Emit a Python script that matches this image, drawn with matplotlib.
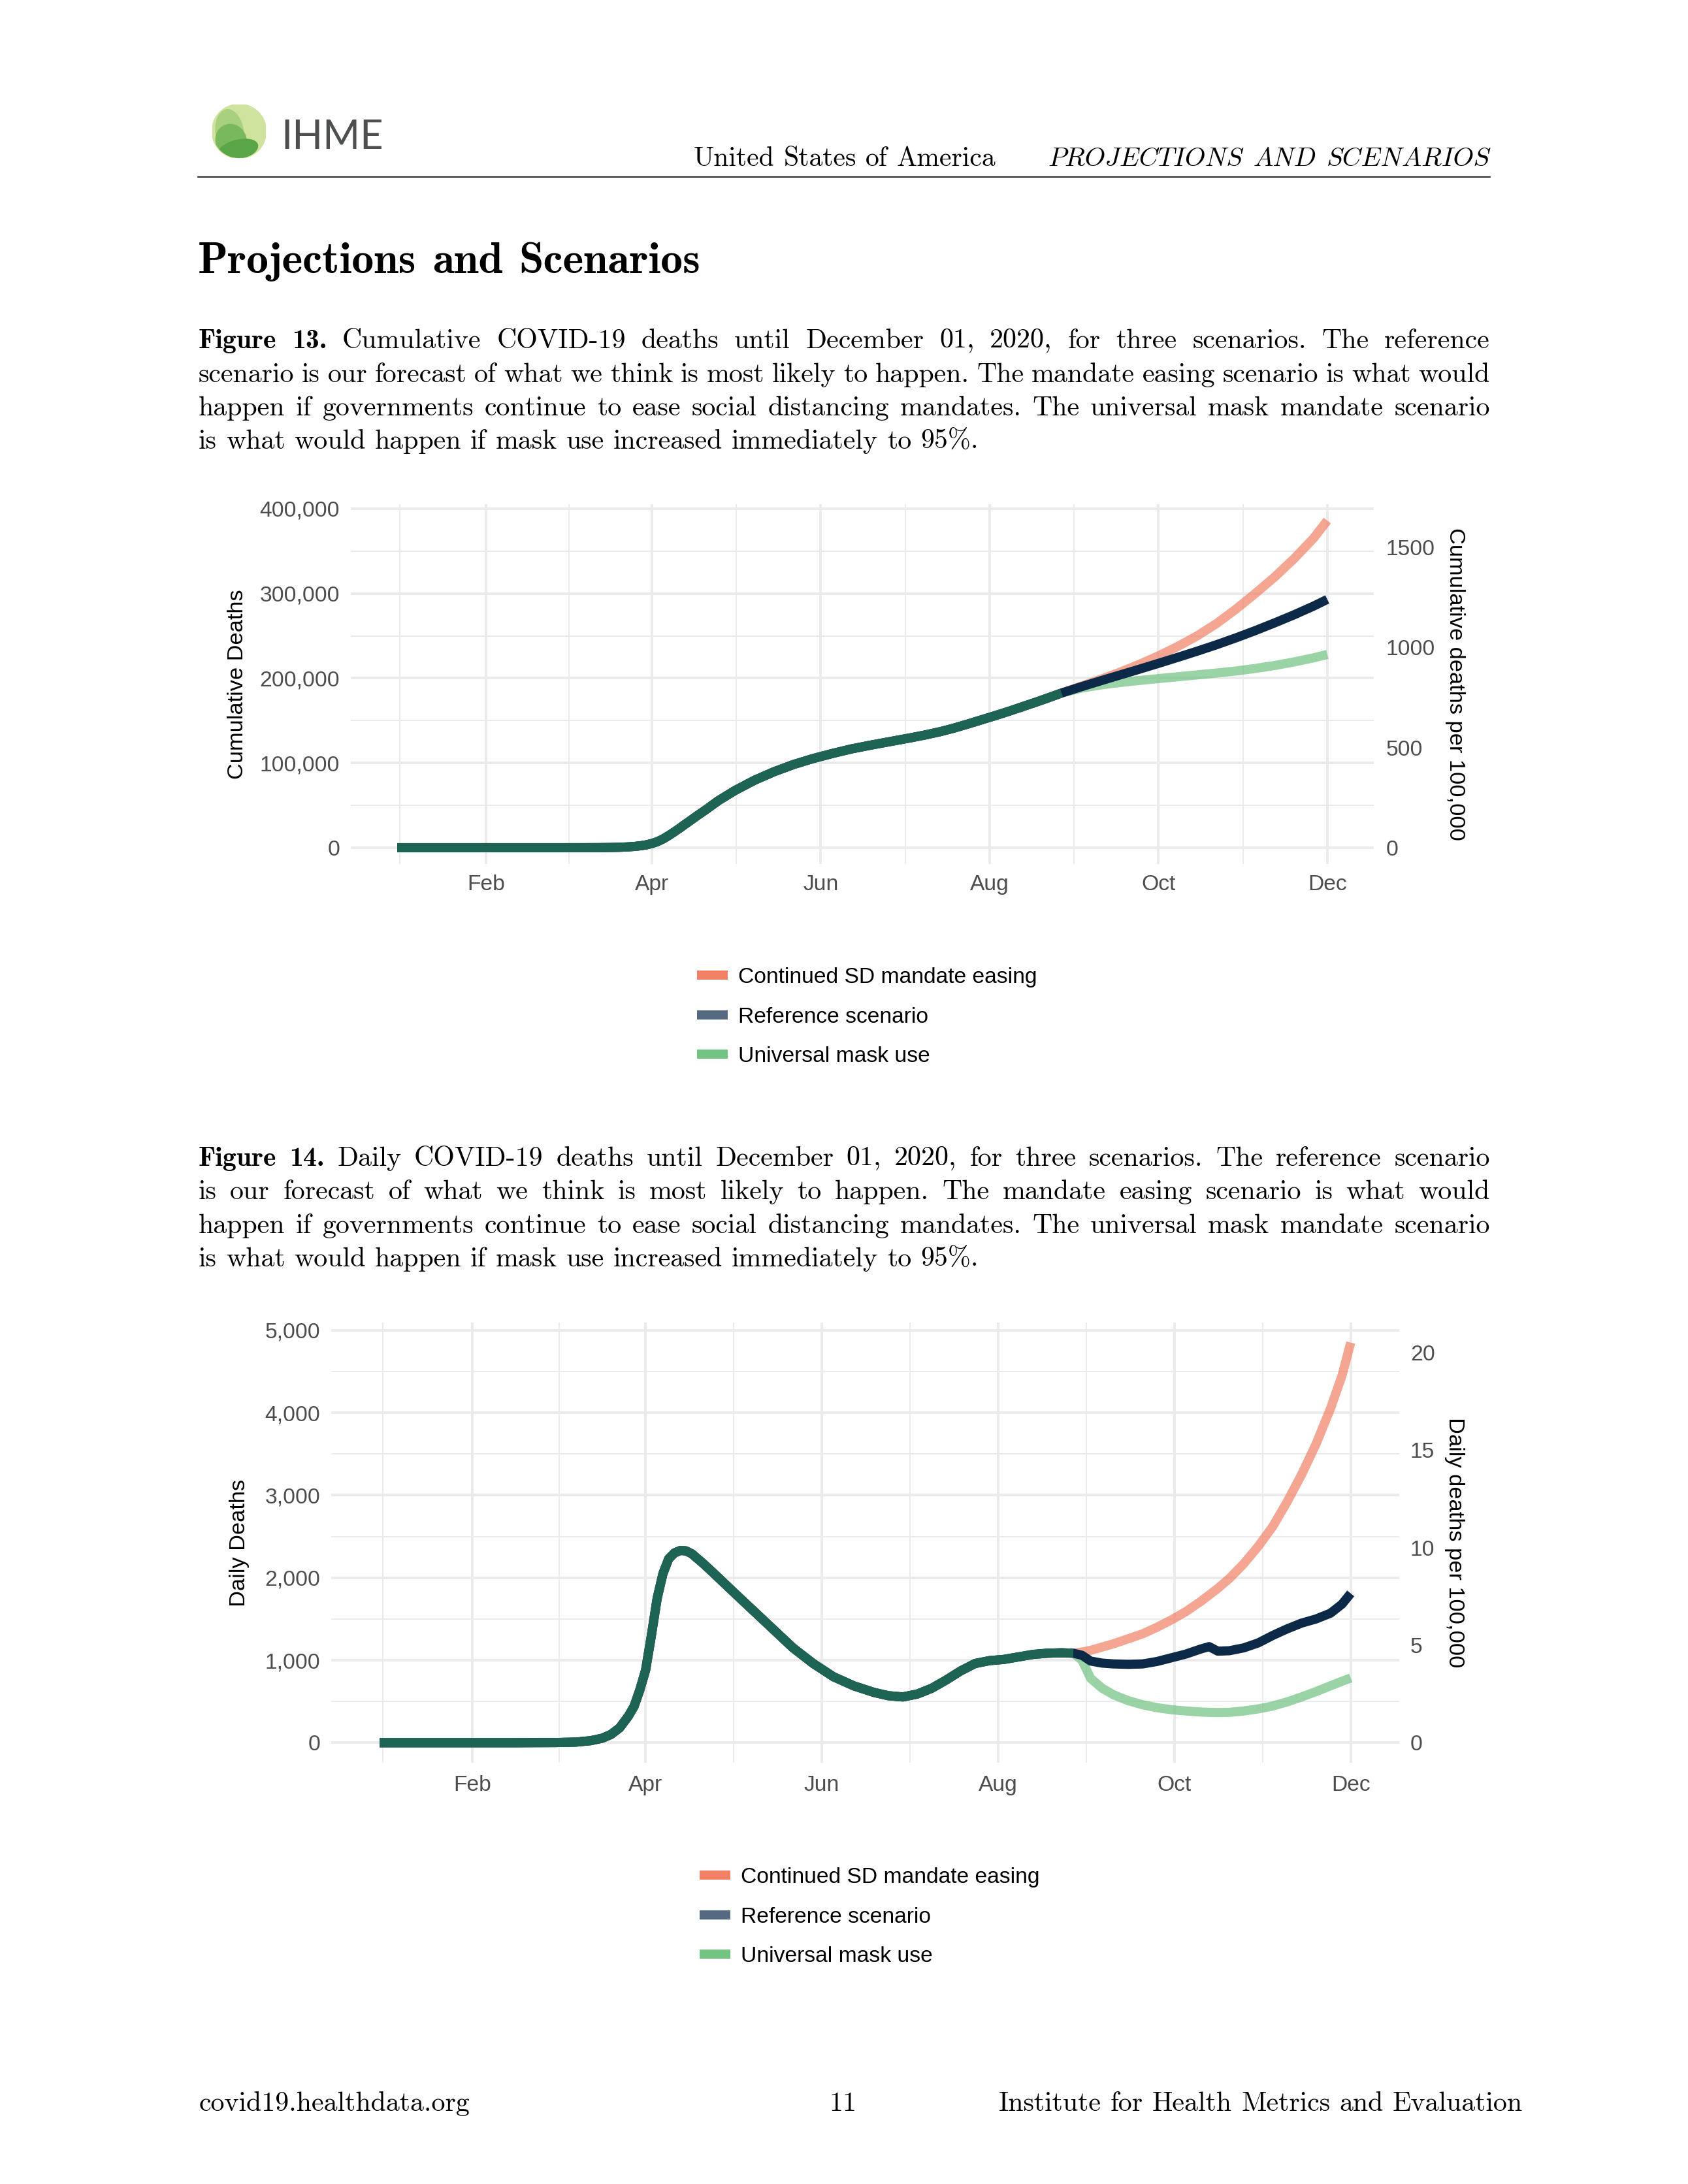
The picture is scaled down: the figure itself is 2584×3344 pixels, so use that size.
import numpy as np
import pandas as pd
import matplotlib
matplotlib.use("Agg")
import matplotlib.pyplot as plt
import matplotlib.dates as mdates
from matplotlib.font_manager import FontProperties
from matplotlib.lines import Line2D
from matplotlib.patches import Circle, Ellipse

# ---------------------------------------------------------------- data
hist_dates = ["2019-12-31", "2020-01-15", "2020-02-01", "2020-02-15", "2020-03-01",
              "2020-03-08", "2020-03-13", "2020-03-17", "2020-03-20", "2020-03-23",
              "2020-03-26", "2020-03-28", "2020-03-30", "2020-04-01", "2020-04-03",
              "2020-04-05", "2020-04-07", "2020-04-09", "2020-04-11", "2020-04-13",
              "2020-04-15", "2020-04-17", "2020-04-21", "2020-04-25", "2020-05-01",
              "2020-05-08", "2020-05-15", "2020-05-22", "2020-05-29", "2020-06-05",
              "2020-06-12", "2020-06-19", "2020-06-24", "2020-06-29", "2020-07-04",
              "2020-07-09", "2020-07-14", "2020-07-19", "2020-07-24", "2020-07-29",
              "2020-08-03", "2020-08-08", "2020-08-13", "2020-08-18", "2020-08-23",
              "2020-08-27"]
hist_daily = [0, 0, 0, 0, 2, 8, 25, 55, 100, 180, 320, 440, 640, 880, 1300, 1750, 2050,
              2230, 2300, 2330, 2325, 2290, 2170, 2040, 1840, 1610, 1380, 1150, 960, 800,
              690, 610, 570, 555, 590, 660, 760, 870, 960, 995, 1010, 1040, 1070, 1085,
              1090, 1085]
hist_cum = [0, 0, 0, 0, 0, 30, 90, 250, 480, 900, 1600, 2350, 3400, 5000, 7200, 10300,
            14200, 18500, 23000, 27700, 32300, 37000, 46000, 55500, 67500, 79500, 89500,
            98000, 105000, 111000, 116500, 121000, 124000, 127000, 130000, 133200, 136800,
            141000, 145800, 150800, 155800, 161000, 166500, 172000, 177800, 182500]

cum_proj_dates = ["2020-09-03", "2020-09-10", "2020-09-17", "2020-09-24", "2020-10-01",
                  "2020-10-08", "2020-10-15", "2020-10-22", "2020-10-29", "2020-11-05",
                  "2020-11-12", "2020-11-19", "2020-11-26", "2020-12-01"]
ease_cum = [190500, 198500, 207000, 216200, 226300, 237500, 250000, 264500, 281500,
            300000, 319500, 341000, 365000, 386000]
ref_cum = [189800, 196800, 203700, 210500, 217500, 224600, 231900, 239500, 247600,
           256200, 265300, 274800, 285000, 293000]
mask_cum = [188200, 192000, 194900, 197300, 199500, 201700, 203900, 206100, 208500,
            211500, 215000, 219200, 224000, 228000]

daily_proj_dates = ["2020-08-30", "2020-09-02", "2020-09-06", "2020-09-10", "2020-09-15",
                    "2020-09-20", "2020-09-25", "2020-09-30", "2020-10-05", "2020-10-10",
                    "2020-10-13", "2020-10-16", "2020-10-20", "2020-10-25", "2020-10-30",
                    "2020-11-04", "2020-11-09", "2020-11-14", "2020-11-19", "2020-11-24",
                    "2020-11-28", "2020-12-01"]
ease_daily = [1100, 1120, 1160, 1200, 1260, 1320, 1400, 1490, 1590, 1710, 1790, 1870, 1990,
              2170, 2380, 2620, 2920, 3250, 3620, 4050, 4450, 4850]
ref_daily = [1060, 990, 965, 955, 950, 955, 985, 1030, 1075, 1135, 1165, 1110, 1115, 1150,
             1210, 1300, 1380, 1450, 1500, 1570, 1680, 1810]
mask_daily = [1000, 780, 660, 580, 510, 460, 425, 400, 385, 372, 368, 366, 368, 385, 410,
              445, 495, 555, 620, 690, 745, 785]

scenario_labels = ["Continued SD mandate easing", "Reference scenario", "Universal mask use"]
legend_colors = ["#F18165", "#556A80", "#73C383"]
line_colors = ["#F08064", "#0C2A48", "#70C17F"]
line_alphas = [0.7, 1.0, 0.7]
history_color = "#1E6454"

month_ticks = ["2019-12-01", "2020-02-01", "2020-04-01", "2020-06-01", "2020-08-01",
               "2020-10-01", "2020-12-01"]
month_labels = ["", "Feb", "Apr", "Jun", "Aug", "Oct", "Dec"]
cum_ticks = [0, 100000, 200000, 300000, 400000]
cum_rate_ticks = [0, 500, 1000, 1500]
daily_ticks = [0, 1000, 2000, 3000, 4000, 5000]
daily_rate_ticks = [0, 5, 10, 15, 20]
rate_divisor = 236.4

caption13 = ["Figure 13. Cumulative COVID-19 deaths until December 01, 2020, for three scenarios. The reference",
             "scenario is our forecast of what we think is most likely to happen. The mandate easing scenario is what would",
             "happen if governments continue to ease social distancing mandates. The universal mask mandate scenario",
             "is what would happen if mask use increased immediately to 95%."]
caption14 = ["Figure 14. Daily COVID-19 deaths until December 01, 2020, for three scenarios. The reference scenario",
             "is our forecast of what we think is most likely to happen. The mandate easing scenario is what would",
             "happen if governments continue to ease social distancing mandates. The universal mask mandate scenario",
             "is what would happen if mask use increased immediately to 95%."]

# ---------------------------------------------------------------- figure
W, H = 2584, 3344
DPI = 200
SANS = ["Liberation Sans", "DejaVu Sans"]
SERIF = ["cmr10", "DejaVu Serif"]
SERIF_B = ["cmb10", "DejaVu Serif"]
SERIF_I = ["cmmi10", "DejaVu Serif"]
plt.rcParams["font.family"] = SANS
plt.rcParams["axes.unicode_minus"] = False

fig = plt.figure(figsize=(W / DPI, H / DPI), dpi=DPI)
fig.patch.set_facecolor("white")
renderer = fig.canvas.get_renderer()

LW = 14 * 72 / DPI
GRID = "#EBEBEB"
TICK_COLOR = "#4D4D4D"
TICK_SIZE = 12.1


def fp(fam, size, weight="normal"):
    return FontProperties(family=fam, size=size, weight=weight)


def widths(items, size):
    return [renderer.get_text_width_height_descent(w, fp(f, size), ismath=False)[0]
            for w, f in items]


def natural(items, size, sp):
    return sum(widths(items, size)) + sp * size * DPI / 72 * (len(items) - 1)


def fit(items, target, sp=0.333):
    return 10 * target / natural(items, 10, sp)


def place(items, x0, base, size, x1=None, sp=0.333, color="black"):
    ws = widths(items, size)
    if x1 is None or len(items) < 2:
        gap = sp * size * DPI / 72
    else:
        gap = (x1 - x0 - sum(ws)) / (len(items) - 1)
    x = x0
    for (w, f), wd in zip(items, ws):
        fig.text(x / W, 1 - base / H, w, fontproperties=fp(f, size), color=color,
                 ha="left", va="baseline")
        x += wd + gap


def items_of(line, bold_n=0, fam=SERIF):
    ws = line.split(" ")
    return [(w, SERIF_B if i < bold_n else fam) for i, w in enumerate(ws)]


# ---------------- header
logo = fig.add_axes([(366 - 41) / W, 1 - (201 + 41) / H, 82 / W, 82 / H])
logo.set_xlim(-1, 1)
logo.set_ylim(-1, 1)
logo.axis("off")
base_c = Circle((0, 0), 1, color="#CFE39E")
logo.add_patch(base_c)
for (cx, cy, ew, eh, ang, col) in [(-0.35, -0.05, 1.0, 1.7, 8, "#A9D07F"),
                                   (-0.3, -0.35, 1.1, 1.2, 20, "#79B85C"),
                                   (-0.05, -0.7, 1.5, 0.7, 15, "#5AA548")]:
    e = Ellipse((cx, cy), ew, eh, angle=ang, color=col)
    logo.add_patch(e)
    e.set_clip_path(base_c)

ihme_fp = FontProperties(family=["Lato", "DejaVu Sans"], weight="normal", size=10)
w10 = renderer.get_text_width_height_descent("IHME", ihme_fp, ismath=False)[0]
ihme_fp.set_size(10 * 156 / w10)
fig.text(430 / W, 1 - 228 / H, "IHME", fontproperties=ihme_fp, color="#4E4F51",
         ha="left", va="baseline")

usa = items_of("United States of America")
s_usa = fit(usa, 462)
place(usa, 1524 - natural(usa, s_usa, 0.333), 254, s_usa)
proj = items_of("PROJECTIONS AND SCENARIOS", fam=SERIF_I)
s_proj = fit(proj, 676, 0.4)
place(proj, 1604, 254, s_proj, sp=0.4)
fig.add_artist(Line2D([303 / W, 2281 / W], [1 - 271 / H, 1 - 271 / H], color="black", lw=0.6))

title = items_of("Projections and Scenarios", bold_n=3)
s_title = fit(title, 768, 0.36)
place(title, 303, 418, s_title, sp=0.36)

# ---------------- captions
cap_size = fit(items_of(caption13[3]), 1197)
for cap, bases in [(caption13, [533, 585, 636, 687]), (caption14, [1785, 1836, 1888, 1939])]:
    for k, (line, b) in enumerate(zip(cap, bases)):
        it = items_of(line, bold_n=2 if k == 0 else 0)
        place(it, 304, b, cap_size, x1=None if k == 3 else 2281)

# ---------------- footer
foot_l = items_of("covid19.healthdata.org")
place(foot_l, 305, 3232, cap_size)
fig.text(1290 / W, 1 - 3232 / H, "11", fontproperties=fp(SERIF, cap_size), ha="center",
         va="baseline")
foot_r = items_of("Institute for Health Metrics and Evaluation")
place(foot_r, 1529, 3232, cap_size)


# ---------------- charts
def to_num(ds):
    return mdates.date2num(pd.to_datetime(ds).to_pydatetime())


def panel(box, hist_vals, proj_dates, scen, lticks, rticks, llabel, rlabel, lx, rx,
          xpad, rpad, legend_y, legend_x):
    L, T, R, B = box
    ax = fig.add_axes([L / W, 1 - B / H, (R - L) / W, (B - T) / H])
    xh = to_num(hist_dates)
    xp = to_num(proj_dates)
    for i in (0, 2, 1):
        ax.plot(np.concatenate([xh, xp]), np.concatenate([hist_vals, scen[i]]),
                color=line_colors[i], alpha=line_alphas[i], lw=LW,
                solid_capstyle="butt", solid_joinstyle="round")
    ax.plot(xh, hist_vals, color=history_color, lw=LW, solid_capstyle="butt",
            solid_joinstyle="round")
    ax.margins(0.05)
    ax.autoscale_view()
    xlim, ylim = ax.get_xlim(), ax.get_ylim()

    mx = to_num(month_ticks)
    ax.set_xticks(mx[1:])
    ax.set_xticklabels(month_labels[1:])
    ax.set_xticks((mx[:-1] + mx[1:]) / 2, minor=True)
    lt = np.array(lticks, dtype=float)
    ax.set_yticks(lt)
    ax.set_yticklabels([f"{int(v):,}" for v in lt])
    ax.set_yticks((lt[:-1] + lt[1:]) / 2, minor=True)
    ax.set_xlim(xlim)
    ax.set_ylim(ylim)

    for s in ax.spines.values():
        s.set_visible(False)
    ax.set_facecolor("white")
    ax.grid(True, which="major", color=GRID, lw=1.44)
    ax.grid(True, which="minor", color=GRID, lw=0.72)
    ax.set_axisbelow(True)
    ax.tick_params(which="both", length=0, labelsize=TICK_SIZE, labelcolor=TICK_COLOR)
    ax.tick_params(axis="x", pad=xpad)
    ax.tick_params(axis="y", pad=6.1)

    ax2 = ax.twinx()
    ax2.set_ylim(ylim[0] / rate_divisor, ylim[1] / rate_divisor)
    ax2.set_yticks(rticks)
    ax2.set_yticklabels([str(v) for v in rticks])
    for s in ax2.spines.values():
        s.set_visible(False)
    ax2.tick_params(length=0, labelsize=TICK_SIZE, labelcolor=TICK_COLOR, pad=rpad)

    ax.set_ylabel(llabel, fontsize=12.4, color="black")
    ax.yaxis.set_label_coords((lx - L) / (R - L), 0.5)
    ax.yaxis.label.set_va("center")
    ax2.set_ylabel(rlabel, fontsize=12.4, color="black", rotation=-90)
    ax2.yaxis.set_label_coords((rx - L) / (R - L), 0.5)
    ax2.yaxis.label.set_va("center")

    handles = [Line2D([], [], color=c, lw=LW, solid_capstyle="butt") for c in legend_colors]
    fig.legend(handles, scenario_labels, loc="center left",
               bbox_to_anchor=(legend_x / W, 1 - legend_y / H), frameon=False,
               borderpad=0, borderaxespad=0, handlelength=1.4, handletextpad=0.48,
               labelspacing=0.88, prop=FontProperties(family=SANS, size=12.1))
    return ax


panel((537, 772, 2103, 1323), hist_cum, cum_proj_dates, [ease_cum, ref_cum, mask_cum],
      cum_ticks, cum_rate_ticks, "Cumulative Deaths", "Cumulative deaths per 100,000",
      364, 2227, 5.8, 6.8, 1557, 1067)
panel((507, 2025, 2142, 2699), hist_daily, daily_proj_dates,
      [ease_daily, ref_daily, mask_daily], daily_ticks, daily_rate_ticks,
      "Daily Deaths", "Daily deaths per 100,000", 367, 2226, 6.8, 6.1, 2935, 1071)

fig.savefig("out.png", dpi=DPI, facecolor="white")
